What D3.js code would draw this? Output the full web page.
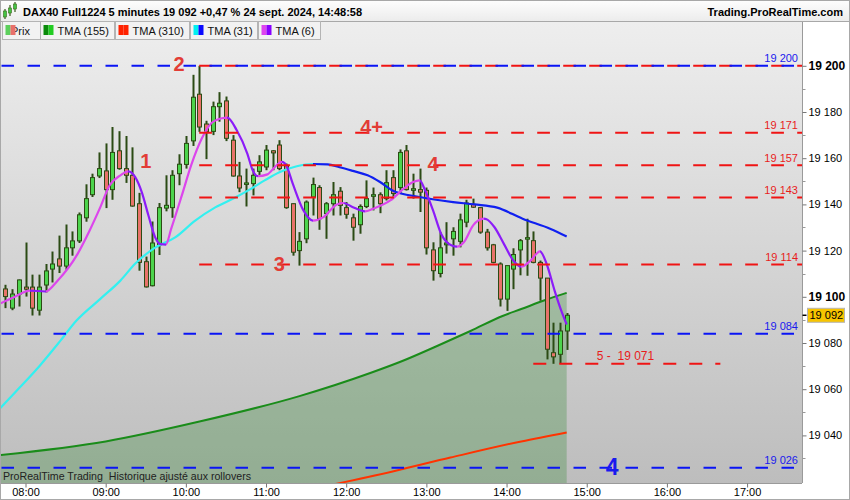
<!DOCTYPE html>
<html><head><meta charset="utf-8">
<script src="https://cdn.jsdelivr.net/npm/d3@7"></script>
<style>body{margin:0;background:#fff}svg{display:block;font-family:"Liberation Sans",Arial,sans-serif}</style>
</head><body><svg id="c" width="850" height="500"></svg>
<script>
// ---------------- DATA ----------------
const times = ["07:45","07:50","07:55",
"08:00","08:05","08:10","08:15","08:20","08:25","08:30","08:35","08:40","08:45","08:50","08:55",
"09:00","09:05","09:10","09:15","09:20","09:25","09:30","09:35","09:40","09:45","09:50","09:55",
"10:00","10:05","10:10","10:15","10:20","10:25","10:30","10:35","10:40","10:45","10:50","10:55",
"11:00","11:05","11:10","11:15","11:20","11:25","11:30","11:35","11:40","11:45","11:50","11:55",
"12:00","12:05","12:10","12:15","12:20","12:25","12:30","12:35","12:40","12:45","12:50","12:55",
"13:00","13:05","13:10","13:15","13:20","13:25","13:30","13:35","13:40","13:45","13:50","13:55",
"14:00","14:05","14:10","14:15","14:20","14:25","14:30","14:35","14:40","14:45"];
const open = [19103.4,19095.1,19101.2,19104.2,19104.2,19094.2,19105.1,19112.0,19116.4,19113.3,
19121.2,19124.2,19134.2,19144.2,19152.3,19154.5,19146.4,19163.2,19155.5,19152.6,
19140.3,19115.2,19104.8,19122.5,19138.4,19138.6,19153.3,19157.3,19167.5,19187.7,
19174.8,19171.6,19182.3,19184.8,19167.8,19152.3,19148.7,19149.0,19154.3,19156.2,
19163.2,19165.7,19156.7,19140.3,19120.0,19125.1,19143.2,19147.3,19136.0,19140.3,
19145.7,19138.6,19134.2,19131.2,19139.1,19143.5,19144.2,19142.5,19151.6,19147.3,
19163.2,19146.1,19146.4,19146.1,19120.3,19110.1,19122.5,19125.1,19124.0,19132.3,
19140.0,19138.6,19128.0,19122.5,19114.2,19099.0,19112.0,19120.3,19125.3,19124.3,
19114.9,19108.1,19075.8,19075.1,19085.2];
const high = [19105.2,19103.3,19107.5,19123.5,19109.6,19109.6,19114.2,19119.6,19126.5,19131.3,
19128.3,19136.5,19148.7,19153.3,19162.5,19166.4,19173.5,19171.7,19169.6,19164.7,
19145.0,19117.4,19132.6,19140.6,19152.6,19154.8,19161.7,19169.6,19196.1,19200.0,
19176.2,19184.5,19188.6,19186.7,19170.0,19158.4,19155.5,19155.5,19161.3,19165.7,
19163.5,19167.8,19157.7,19140.5,19128.0,19141.7,19151.6,19148.3,19141.0,19149.7,
19147.5,19141.0,19136.0,19140.0,19150.4,19147.3,19145.2,19154.8,19154.8,19163.8,
19165.7,19153.3,19155.5,19147.3,19123.6,19128.0,19132.3,19130.1,19136.0,19142.0,
19142.5,19138.8,19129.4,19122.9,19114.9,19113.5,19121.0,19125.0,19133.8,19128.3,
19115.7,19108.1,19088.8,19088.8,19093.0];
const low = [19095.1,19094.2,19095.8,19100.1,19091.9,19091.9,19101.9,19106.2,19110.3,19111.7,
19117.8,19123.3,19132.5,19143.2,19151.4,19138.4,19142.0,19155.0,19149.3,19139.0,
19111.3,19104.0,19104.5,19118.1,19137.0,19134.2,19148.3,19155.5,19165.3,19171.4,
19159.6,19170.0,19175.8,19167.4,19152.0,19145.3,19139.1,19143.9,19152.6,19154.8,
19154.8,19154.8,19138.1,19117.8,19113.5,19123.2,19135.2,19129.0,19125.1,19135.2,
19135.2,19133.8,19124.3,19127.3,19138.4,19137.4,19136.2,19141.7,19143.2,19144.7,
19146.0,19142.5,19136.7,19118.3,19107.0,19108.4,19118.7,19117.8,19121.4,19130.1,
19138.5,19127.3,19120.0,19114.5,19095.8,19093.9,19103.3,19109.3,19109.1,19114.5,
19098.3,19072.9,19071.0,19071.0,19077.0];
const close = [19100.1,19101.2,19107.3,19103.3,19095.1,19104.2,19111.2,19114.2,19113.3,19121.2,
19124.2,19135.5,19142.5,19151.6,19155.5,19146.4,19162.5,19155.5,19152.6,19139.3,
19114.9,19104.3,19123.3,19138.6,19139.6,19152.6,19157.4,19166.4,19186.4,19173.5,
19171.4,19182.3,19183.8,19168.6,19152.3,19147.1,19149.3,19152.6,19158.4,19163.5,
19162.3,19155.5,19138.6,19119.3,19124.0,19141.0,19148.6,19133.8,19140.3,19144.2,
19139.6,19135.7,19130.1,19139.1,19142.5,19144.2,19140.3,19149.4,19144.7,19162.5,
19146.4,19146.8,19145.3,19121.2,19111.3,19121.2,19123.3,19128.3,19133.3,19140.6,
19138.8,19128.0,19121.2,19114.9,19099.0,19113.5,19118.3,19124.3,19125.6,19114.9,
19108.1,19077.3,19074.0,19085.2,19092.0];

const tma6Times = ["07:41","07:52","08:03","08:15","08:24","08:39","08:48","08:56","09:03","09:11","09:17","09:22","09:27","09:32","09:37","09:41","09:45","09:49","09:57","10:04","10:12","10:19","10:27","10:31","10:38","10:46","10:50","10:54","11:01","11:08","11:12","11:15","11:20","11:28","11:35","11:43","11:53","11:58","12:05","12:14","12:20","12:33","12:43","12:50","12:55","12:59","13:05","13:11","13:19","13:23","13:28","13:35","13:43","13:45","13:51","13:58","14:05","14:11","14:18","14:25","14:30","14:36","14:41","14:45"];
const tma6 = [19097.1,19100.0,19102.7,19102.3,19107.0,19118.6,19128.7,19138.8,19148.3,19152.6,19154.3,19151.9,19145.3,19135.2,19125.8,19122.8,19122.6,19129.4,19143.9,19157.0,19168.6,19175.1,19177.3,19177.6,19172.2,19162.0,19154.8,19152.2,19153.0,19157.0,19158.4,19157.0,19149.0,19137.4,19133.0,19134.5,19140.0,19140.6,19138.8,19137.0,19138.1,19141.7,19146.8,19149.7,19150.4,19146.1,19137.4,19127.3,19122.2,19121.7,19123.6,19130.9,19133.8,19133.6,19130.1,19122.9,19115.7,19113.0,19115.7,19119.7,19114.2,19102.6,19093.9,19088.0];

const tma31Times = ["07:41","07:56","08:11","08:26","08:38","08:56","09:11","09:22","09:37","09:52","10:07","10:22","10:37","10:48","10:59","11:10","11:23","11:35","11:46","11:55","12:05","12:16","12:25","12:35","12:55","13:20","13:36","13:53","14:12","14:33","14:45"];
const tma31 = [19051.7,19060.9,19070.4,19080.9,19089.6,19099.1,19107.0,19114.3,19121.3,19125.7,19133.0,19138.7,19143.0,19146.5,19150.4,19153.9,19156.5,19157.5,19157.3,19156.1,19154.5,19152.6,19149.8,19145.9,19143.2,19141.0,19140.0,19138.6,19133.8,19129.4,19126.1];

const tma155Times = ["07:41","09:00","10:11","11:25","12:18","12:42","13:08","13:33","13:57","14:11","14:29","14:45"];
const tma155 = [19031.5,19037.4,19046.1,19057.0,19067.0,19072.2,19078.7,19085.2,19091.7,19094.7,19098.6,19101.7];

const tma310Times = ["11:25","11:53","12:34","13:18","14:11","14:45"];
const tma310 = [19015.7,19019.1,19024.3,19030.4,19037.4,19041.3];

const blueLevels = [19200, 19084, 19026];
const redLevels = [19200, 19171, 19157, 19143, 19114];
const redLevelsStart = "10:10";
const levelLabels = [19200, 19171, 19157, 19143, 19114, 19084, 19026];
const levelLabelIsBlue = [true, false, false, false, false, true, true];
const targetLevel = 19071, targetStart = "14:20", targetEnd = "16:40";
const targetText = "5 -  19 071", targetTime = "15:29", targetPrice = 19074.4;

const annotTexts = ["1", "2", "3", "4+", "4"];
const annotTimes = ["09:30", "09:55", "11:10", "12:19", "13:05"];
const annotPrices = [19158.7, 19200.8, 19114.5, 19173.5, 19157.5];
const blueAnnotText = "4", blueAnnotTime = "15:19", blueAnnotPrice = 19026.7;

const yTicks = [19040, 19060, 19080, 19100, 19120, 19140, 19160, 19180, 19200];
const yMinorTicks = [19030, 19050, 19070, 19090, 19110, 19130, 19150, 19170, 19190];
const boldTicks = [19100, 19200];
const hourTicks = ["08:00","09:00","10:00","11:00","12:00","13:00","14:00","15:00","16:00","17:00"];
const lastPrice = 19092;

const titleText = "DAX40 Full1224 5 minutes 19 092 +0,47 % 24 sept. 2024, 14:48:58";
const siteText = "Trading.ProRealTime.com";
const footText = "ProRealTime Trading  Historique ajusté aux rollovers";
const legendNames = ["Prix", "TMA (155)", "TMA (310)", "TMA (31)", "TMA (6)"];

// ---------------- STYLE / LAYOUT ----------------
const PR = 802, PT = 22, PB = 483;
const C = {
  up: "#4cd44c", down: "#e8736a", edge: "#2b4b14",
  t6up: "#dc46ec", t6dn: "#8c1cf8", t31up: "#33f0f0", t31dn: "#1020f0",
  t155: "#1a8c1a", t310: "#ff3300", red: "#f01414", blue: "#0a14f5",
  redTxt: "#e81c1c", blueTxt: "#1a1aee", annot: "#e23c36"
};
const legendLayout = [
  {x:2, w:38, c1:"#5ccf5c", c2:"#e8706a"},
  {x:40, w:74, c1:"#0a8a0a", c2:"#22cc22"},
  {x:115, w:74, c1:"#ff2200", c2:"#ff2200"},
  {x:190, w:67, c1:"#00f0f0", c2:"#0a0aff"},
  {x:258, w:62, c1:"#dd44ee", c2:"#8800ff"}
];

const parseT = s => { const [h, m] = s.split(":").map(Number); return new Date(2024, 8, 24, h, m); };
const x = d3.scaleTime().domain([new Date(2024,8,24,7,40,55), new Date(2024,8,24,17,41,6)]).range([0, PR]);
const y = d3.scaleLinear().domain([19200, 19040]).range([65.8, 435.4]);
const fmt = d3.formatLocale({decimal:",", thousands:" ", grouping:[3], currency:["",""]}).format(",");

const svg = d3.select("#c");
const defs = svg.append("defs");
const bgG = defs.append("linearGradient").attr("id","bg").attr("x1",0).attr("y1",0).attr("x2",0).attr("y2",1);
bgG.append("stop").attr("offset",0).attr("stop-color","#eeeeee");
bgG.append("stop").attr("offset",1).attr("stop-color","#bdbdbd");
const hdG = defs.append("linearGradient").attr("id","hd").attr("x1",0).attr("y1",0).attr("x2",0).attr("y2",1);
hdG.append("stop").attr("offset",0).attr("stop-color","#fefefe");
hdG.append("stop").attr("offset",1).attr("stop-color","#ececec");
defs.append("clipPath").attr("id","clip").append("rect").attr("x",1).attr("y",PT).attr("width",PR-1).attr("height",PB-PT);

// backgrounds
svg.append("rect").attr("width",850).attr("height",500).attr("fill","#fff");
svg.append("rect").attr("x",0).attr("y",0).attr("width",850).attr("height",21).attr("fill","url(#hd)");
svg.append("line").attr("x1",0).attr("x2",850).attr("y1",21.5).attr("y2",21.5).attr("stroke","#a8a8a8");
svg.append("rect").attr("x",0).attr("y",PT).attr("width",PR).attr("height",PB-PT).attr("fill","url(#bg)");

const plot = svg.append("g").attr("clip-path","url(#clip)");

// area under TMA155
const p155 = tma155Times.map((t,i)=>[x(parseT(t)), y(tma155[i])]);
plot.append("path").attr("d", d3.area().curve(d3.curveMonotoneX).x(d=>d[0]).y0(PB).y1(d=>d[1])(p155))
  .attr("fill","rgba(60,140,60,0.32)");

function tmaLine(ts, vs, upC, dnC, id, w) {
  const pts = ts.map((t,i)=>[x(parseT(t)), y(vs[i])]);
  const dirs = []; let prev = 1;
  for (let k=1;k<vs.length;k++){ const d = vs[k]>vs[k-1]?1:(vs[k]<vs[k-1]?-1:prev); dirs.push(d); prev=d; }
  const col = d => d>0?upC:dnC;
  const g = defs.append("linearGradient").attr("id",id).attr("gradientUnits","userSpaceOnUse")
    .attr("x1",0).attr("x2",PR).attr("y1",0).attr("y2",0);
  g.append("stop").attr("offset",0).attr("stop-color",col(dirs[0]));
  for (let k=1;k<dirs.length;k++){
    if (dirs[k]!==dirs[k-1]) {
      const off = Math.max(0,Math.min(1,pts[k][0]/PR));
      g.append("stop").attr("offset",off).attr("stop-color",col(dirs[k-1]));
      g.append("stop").attr("offset",off).attr("stop-color",col(dirs[k]));
    }
  }
  g.append("stop").attr("offset",1).attr("stop-color",col(dirs[dirs.length-1]));
  plot.append("path").attr("d", d3.line().curve(d3.curveMonotoneX)(pts))
    .attr("fill","none").attr("stroke",`url(#${id})`).attr("stroke-width",w).attr("stroke-linejoin","round");
}

tmaLine(tma310Times, tma310, C.t310, C.t310, "g310", 2);
tmaLine(tma155Times, tma155, C.t155, C.t155, "g155", 2);

// candles
const cg = plot.append("g");
times.forEach((t,i)=>{
  const cx = Math.round(x(parseT(t))) + 0.5;
  cg.append("line").attr("x1",cx).attr("x2",cx).attr("y1",y(high[i])).attr("y2",y(low[i]))
    .attr("stroke",C.edge).attr("stroke-width",2);
  const yt = y(Math.max(open[i],close[i])), yb = y(Math.min(open[i],close[i]));
  cg.append("rect").attr("x",cx-2).attr("width",4).attr("y",yt).attr("height",Math.max(1.5,yb-yt))
    .attr("fill", close[i]>=open[i]?C.up:C.down).attr("stroke",C.edge).attr("stroke-width",1);
});

tmaLine(tma31Times, tma31, C.t31up, C.t31dn, "g31", 2.2);
tmaLine(tma6Times, tma6, C.t6up, C.t6dn, "g6", 2.2);

// level lines
redLevels.forEach(v=>{
  plot.append("line").attr("x1",x(parseT(redLevelsStart))).attr("x2",PR).attr("y1",y(v)).attr("y2",y(v))
    .attr("stroke",C.red).attr("stroke-width",2).attr("stroke-dasharray","12.7,13.3");
});
blueLevels.forEach(v=>{
  plot.append("line").attr("x1",1.5).attr("x2",PR).attr("y1",y(v)).attr("y2",y(v))
    .attr("stroke",C.blue).attr("stroke-width",2).attr("stroke-dasharray","12.5,13.5");
});
plot.append("line").attr("x1",x(parseT(targetStart))).attr("x2",x(parseT(targetEnd)))
  .attr("y1",y(targetLevel)).attr("y2",y(targetLevel))
  .attr("stroke",C.red).attr("stroke-width",2).attr("stroke-dasharray","13,13");

// level labels
levelLabels.forEach((v,i)=>{
  svg.append("text").attr("x",798).attr("y",y(v)-3.5).attr("text-anchor","end")
    .attr("font-size",11).attr("fill", levelLabelIsBlue[i]?C.blueTxt:C.redTxt).text(fmt(v));
});
svg.append("text").attr("x",x(parseT(targetTime))).attr("y",y(targetPrice)+4).attr("text-anchor","middle")
  .attr("font-size",12).attr("fill",C.redTxt).style("white-space","pre").text(targetText);

// annotations
annotTexts.forEach((s,i)=>{
  svg.append("text").attr("x",x(parseT(annotTimes[i]))).attr("y",y(annotPrices[i])+7.2)
    .attr("text-anchor","middle").attr("font-size",20).attr("font-weight","bold").attr("fill",C.annot).text(s);
});
svg.append("text").attr("x",x(parseT(blueAnnotTime))).attr("y",y(blueAnnotPrice)+8.5)
  .attr("text-anchor","middle").attr("font-size",23).attr("font-weight","bold").attr("fill",C.blueTxt).text(blueAnnotText);

// footer text in plot
svg.append("text").attr("x",3).attr("y",480).attr("font-size",11).attr("fill","#222")
  .attr("textLength",248).attr("lengthAdjust","spacingAndGlyphs").style("white-space","pre").text(footText);

// right axis panel
svg.append("rect").attr("x",PR+0.5).attr("y",PT).attr("width",850-PR).attr("height",PB-PT).attr("fill","#fff");
const ya = svg.append("g").attr("transform",`translate(${PR+0.5},0)`);
ya.append("line").attr("y1",PT).attr("y2",PB).attr("stroke","#9a9a9a");
ya.call(d3.axisRight(y).tickValues(yTicks).tickSize(4).tickPadding(2).tickFormat(fmt));
ya.select(".domain").remove();
ya.selectAll(".tick line").attr("stroke","#777");
ya.selectAll(".tick text").attr("font-family","Liberation Sans, Arial, sans-serif").attr("fill","#000")
  .attr("font-size", d=>boldTicks.includes(d)?12:11).attr("font-weight", d=>boldTicks.includes(d)?"bold":"normal");
yMinorTicks.forEach(v=>{
  ya.append("line").attr("x1",0).attr("x2",3).attr("y1",Math.round(y(v))+0.5).attr("y2",Math.round(y(v))+0.5).attr("stroke","#999");
});
// last price marker
const yp = y(lastPrice);
ya.append("line").attr("x1",0).attr("x2",4).attr("y1",yp).attr("y2",yp).attr("stroke","#000").attr("stroke-width",1.5);
ya.append("rect").attr("x",5).attr("y",yp-7).attr("width",37).attr("height",14).attr("fill","#f7c400").attr("stroke","#b5b5b5");
ya.append("text").attr("x",7).attr("y",yp+4).attr("font-size",11).attr("fill","#000").text(fmt(lastPrice));

// bottom axis
svg.append("rect").attr("x",0).attr("y",PB).attr("width",850).attr("height",500-PB).attr("fill","#fff");
const xa = svg.append("g").attr("transform",`translate(0,${PB+0.5})`);
xa.append("line").attr("x1",0).attr("x2",PR).attr("stroke","#9a9a9a");
xa.call(d3.axisBottom(x).tickValues(hourTicks.map(parseT)).tickSize(4).tickPadding(1).tickFormat(d3.timeFormat("%H:%M")));
xa.select(".domain").remove();
xa.selectAll(".tick line").attr("stroke","#777");
xa.selectAll(".tick text").attr("font-family","Liberation Sans, Arial, sans-serif").attr("font-size",11).attr("fill","#000");

// legend
legendLayout.forEach((L,i)=>{
  svg.append("rect").attr("x",L.x+0.5).attr("y",21.5).attr("width",L.w).attr("height",18).attr("fill","#f2f2f2").attr("stroke","#b4b4b4");
  const tx = i===0 ? L.x+9 : L.x+17.5;
  svg.append("text").attr("x",tx).attr("y",34.5).attr("font-size",11).attr("fill","#111").text(legendNames[i]);
  svg.append("rect").attr("x",L.x+3.5).attr("y",25).attr("width",5).attr("height",10).attr("fill",L.c1);
  svg.append("rect").attr("x",L.x+8.5).attr("y",25).attr("width",5).attr("height",10).attr("fill",L.c2);
});

// header icon + texts
[[5,9,19,11,17],[10,5,16,8,13],[15,2,12,4,9]].forEach(c=>{
  svg.append("line").attr("x1",c[0]).attr("x2",c[0]).attr("y1",c[1]).attr("y2",c[2]).attr("stroke","#3a5a1a").attr("stroke-width",1.2);
  svg.append("rect").attr("x",c[0]-1.5).attr("y",c[3]).attr("width",3).attr("height",c[4]-c[3]).attr("fill","#44c444").attr("stroke","#3a6a1a").attr("stroke-width",0.6);
});
svg.append("text").attr("x",23).attr("y",15.5).attr("font-size",11).attr("font-weight","bold").attr("fill","#000").text(titleText);
svg.append("text").attr("x",843).attr("y",15.5).attr("text-anchor","end").attr("font-size",11).attr("font-weight","bold").attr("fill","#000").text(siteText);

// frame
svg.append("line").attr("x1",0.5).attr("x2",0.5).attr("y1",PT).attr("y2",PB).attr("stroke","#9a9a9a");
svg.append("rect").attr("x",0.5).attr("y",0.5).attr("width",849).attr("height",499).attr("fill","none").attr("stroke","#a8a8a8");
</script></body></html>
